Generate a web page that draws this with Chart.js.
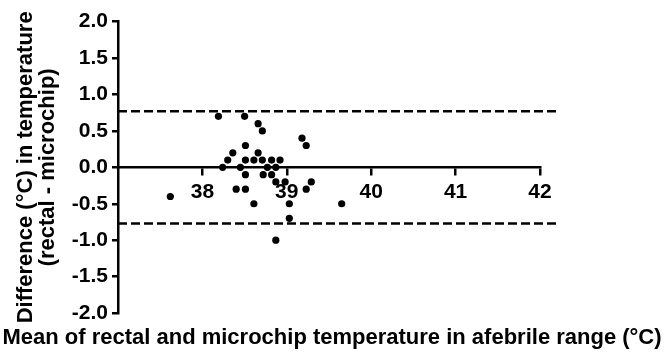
<!DOCTYPE html>
<html>
<head>
<meta charset="utf-8">
<script src="https://cdn.jsdelivr.net/npm/chart.js@4.4.1/dist/chart.umd.min.js"></script>
<style>
  html, body { margin: 0; padding: 0; background: #fff; }
  canvas { display: block; }
</style>
</head>
<body>
<canvas id="chart" width="664" height="361"></canvas>
<script>
// =====================
// DATA
// =====================
const meanTemp = [38.19, 38.50, 38.66, 38.71, 39.18, 39.23, 38.51, 38.36, 38.66, 38.30,
                  38.51, 38.61, 38.71, 38.82, 38.92, 38.24, 38.45, 38.77, 38.87, 38.51,
                  38.72, 38.82, 38.87, 38.98, 39.29, 38.40, 38.51, 39.23, 37.62, 38.61,
                  39.03, 39.65, 39.03, 38.87]
const diffTemp = [0.7, 0.7, 0.6, 0.5, 0.4, 0.3, 0.3, 0.2, 0.2, 0.1,
                  0.1, 0.1, 0.1, 0.1, 0.1, 0.0, 0.0, 0.0, 0.0, -0.1,
                  -0.1, -0.1, -0.2, -0.2, -0.2, -0.3, -0.3, -0.3, -0.4, -0.5,
                  -0.5, -0.5, -0.7, -1.0]

// limits of agreement (dashed lines) and how far they run
const limitsOfAgreement = [0.77, -0.77]
const limitXRange = [37, 42.19]

// axis ticks
const xTicks = [38, 39, 40, 41, 42]
const xRange = [37, 42]
const yRange = [-2, 2]
const yStep = 0.5

const xTitle = "Mean of rectal and microchip temperature in afebrile range (°C)"
const yTitle = ["Difference (°C) in temperature", "(rectal - microchip)"]

// =====================
// DATASETS
// =====================
const points = meanTemp.map((x, i) => ({ x, y: diffTemp[i] }))

const limitSets = limitsOfAgreement.map(v => ({
  type: "line",
  data: limitXRange.map(x => ({ x, y: v })),
  borderColor: "#000",
  borderWidth: 2.5,
  borderDash: [9, 4],
  pointRadius: 0,
  clip: false
}))

const FONT = "'Liberation Sans', Arial, sans-serif"

// y title drawn by hand so the long line is not squeezed to the axis height
const yTitlePlugin = {
  id: "yTitle",
  afterDraw(chart){
    const s = chart.scales.y
    const ctx = chart.ctx
    ctx.save()
    ctx.translate(26, (s.top + s.bottom) / 2)
    ctx.rotate(-Math.PI / 2)
    ctx.fillStyle = "#000"
    ctx.font = "bold 22px " + FONT
    ctx.textAlign = "center"
    ctx.textBaseline = "middle"
    yTitle.forEach((line, i) => ctx.fillText(line, 0, i * 22))
    ctx.restore()
  }
}

new Chart(document.getElementById("chart"), {
  type: "scatter",
  data: {
    datasets: [
      {
        data: points,
        backgroundColor: "#000",
        borderWidth: 0,
        pointRadius: 3.6,
        pointHoverRadius: 3.6
      },
      ...limitSets
    ]
  },
  plugins: [yTitlePlugin],
  options: {
    responsive: false,
    animation: false,
    events: [],
    layout: { padding: { top: 21.7, right: 0, bottom: 0, left: 0 } },
    plugins: {
      legend: { display: false },
      tooltip: { enabled: false },
      title: {
        display: true,
        position: "bottom",
        text: xTitle,
        color: "#000",
        font: { family: FONT, size: 22, weight: "bold", lineHeight: 1.0 },
        padding: { top: 14, bottom: 12 }
      }
    },
    scales: {
      x: {
        type: "linear",
        min: xRange[0],
        max: xRange[1],
        position: { y: 0 },
        afterBuildTicks: s => { s.ticks = xTicks.map(v => ({ value: v })) },
        afterFit: s => { s.height = 0 },
        grid: { display: true, drawOnChartArea: false, drawTicks: true, tickLength: 7, lineWidth: 2.5, color: "#000" },
        border: { display: true, color: "#000", width: 2.5 },
        ticks: {
          color: "#000",
          padding: 5,
          maxRotation: 0,
          font: { family: FONT, size: 21, weight: "bold" }
        }
      },
      y: {
        type: "linear",
        min: yRange[0],
        max: yRange[1],
        position: "left",
        afterFit: s => { s.width = 118 },
        grid: { display: true, drawOnChartArea: false, drawTicks: true, tickLength: 6, lineWidth: 2.5, color: "#000" },
        border: { display: true, color: "#000", width: 2.5 },
        ticks: {
          stepSize: yStep,
          color: "#000",
          padding: 4,
          font: { family: FONT, size: 21, weight: "bold" },
          callback: v => v.toFixed(1)
        }
      },
      // empty right-hand box that keeps the plot area off the right edge
      spacer: {
        type: "linear",
        position: "right",
        afterFit: s => { s.width = 124 },
        grid: { display: false },
        border: { display: false },
        ticks: { display: false }
      }
    }
  }
})
</script>
</body>
</html>
